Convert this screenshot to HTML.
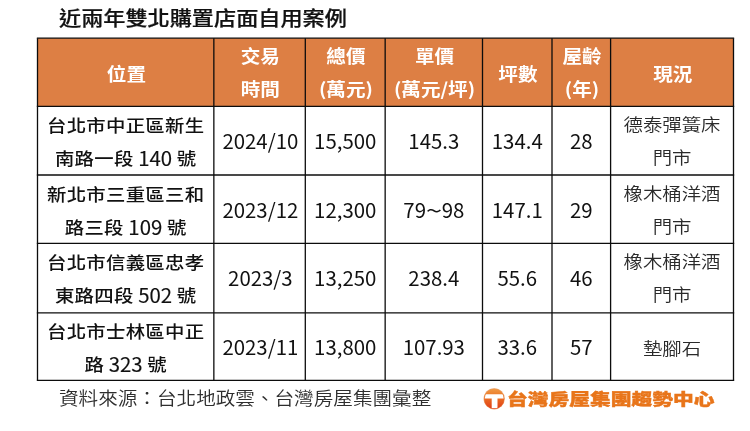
<!DOCTYPE html>
<html lang="zh-Hant"><head><meta charset="utf-8"><title>近兩年雙北購置店面自用案例</title>
<style>
html,body{margin:0;padding:0;background:#fff;}
body{width:750px;height:431px;position:relative;overflow:hidden;font-family:"Liberation Sans","Noto Sans CJK TC",sans-serif;color:#111;}
.t{position:absolute;white-space:nowrap;text-align:center;font-family:"Noto Sans CJK TC","Liberation Sans",sans-serif;}
.k{display:inline-block;transform:scaleY(0.9);transform-origin:50% 50%;}
.title{font-weight:500;font-size:22.15px;line-height:30px;color:#111;-webkit-text-stroke:0.25px #111;}
.h{font-weight:700;font-size:19.6px;line-height:32px;color:#fff;}
.c{font-weight:400;font-size:19.4px;line-height:32px;color:#111;}
.a{font-weight:500;}
.a .k{letter-spacing:0.28px;}
.s{font-weight:350;color:#2a2a2a;}
.n{display:inline-block;font-size:20.4px;}
.a .n{font-weight:400;-webkit-text-stroke:0.15px #111;}
.f{font-weight:350;font-size:19.6px;line-height:30px;color:#2e2e2e;}
.logo{font-weight:900;font-size:20.75px;line-height:30px;color:#e8751a;-webkit-text-stroke:0.5px #e8751a;}
.lk{display:inline-block;transform:scaleY(0.79);transform-origin:50% 50%;}
</style></head><body>

<svg style="position:absolute;left:0;top:0" width="750" height="431" viewBox="0 0 750 431"><rect x="37.5" y="38.2" width="696.0" height="68.1" fill="#dd7f44"/><line x1="36.85" y1="38.2" x2="734.15" y2="38.2" stroke="#0c0c0c" stroke-width="1.3"/><line x1="36.85" y1="106.3" x2="734.15" y2="106.3" stroke="#0c0c0c" stroke-width="1.3"/><line x1="36.85" y1="175.0" x2="734.15" y2="175.0" stroke="#0c0c0c" stroke-width="1.3"/><line x1="36.85" y1="243.4" x2="734.15" y2="243.4" stroke="#0c0c0c" stroke-width="1.3"/><line x1="36.85" y1="312.9" x2="734.15" y2="312.9" stroke="#0c0c0c" stroke-width="1.3"/><line x1="36.85" y1="380.4" x2="734.15" y2="380.4" stroke="#0c0c0c" stroke-width="1.3"/><line x1="37.5" y1="38.2" x2="37.5" y2="380.4" stroke="#0c0c0c" stroke-width="1.3"/><line x1="213.85" y1="38.2" x2="213.85" y2="380.4" stroke="#0c0c0c" stroke-width="1.3"/><line x1="305.3" y1="38.2" x2="305.3" y2="380.4" stroke="#0c0c0c" stroke-width="1.3"/><line x1="385.16" y1="38.2" x2="385.16" y2="380.4" stroke="#0c0c0c" stroke-width="1.3"/><line x1="482.5" y1="38.2" x2="482.5" y2="380.4" stroke="#0c0c0c" stroke-width="1.3"/><line x1="552.0" y1="38.2" x2="552.0" y2="380.4" stroke="#0c0c0c" stroke-width="1.3"/><line x1="610.6" y1="38.2" x2="610.6" y2="380.4" stroke="#0c0c0c" stroke-width="1.3"/><line x1="733.5" y1="38.2" x2="733.5" y2="380.4" stroke="#0c0c0c" stroke-width="1.3"/></svg>
<div class="t title" style="left:59px;top:2.3px;text-align:left"><span class="k">近兩年雙北購置店面自用案例</span></div>
<div class="t h" style="left:-73.62px;top:57.60px;width:400px"><span class="k">位置</span></div>
<div class="t h" style="left:60.27px;top:40.40px;width:400px"><span class="k">交易</span></div>
<div class="t h" style="left:60.27px;top:73.30px;width:400px"><span class="k">時間</span></div>
<div class="t h" style="left:145.93px;top:40.40px;width:400px"><span class="k">總價</span></div>
<div class="t h" style="left:145.93px;top:73.30px;width:400px"><span class="k">(萬元)</span></div>
<div class="t h" style="left:234.53px;top:40.40px;width:400px"><span class="k">單價</span></div>
<div class="t h" style="left:234.53px;top:73.30px;width:400px"><span class="k">(萬元/坪)</span></div>
<div class="t h" style="left:317.95px;top:57.60px;width:400px"><span class="k">坪數</span></div>
<div class="t h" style="left:382.00px;top:40.40px;width:400px"><span class="k">屋齡</span></div>
<div class="t h" style="left:382.00px;top:73.30px;width:400px"><span class="k">(年)</span></div>
<div class="t h" style="left:472.75px;top:57.60px;width:400px"><span class="k">現況</span></div>
<div class="t c a" style="left:-74.33px;top:109.40px;width:400px"><span class="k">台北市中正區新生</span></div>
<div class="t c a" style="left:-74.33px;top:141.30px;width:400px"><span class="k">南路一段</span><span class="n">&nbsp;140&nbsp;</span><span class="k">號</span></div>
<div class="t c" style="left:60.38px;top:124.35px;width:400px"><span class="n">2024/10</span></div>
<div class="t c" style="left:145.23px;top:124.35px;width:400px"><span class="n">15,500</span></div>
<div class="t c" style="left:233.83px;top:124.35px;width:400px"><span class="n">145.3</span></div>
<div class="t c" style="left:317.25px;top:124.35px;width:400px"><span class="n">134.4</span></div>
<div class="t c" style="left:381.30px;top:124.35px;width:400px"><span class="n">28</span></div>
<div class="t c s" style="left:472.05px;top:108.20px;width:400px"><span class="k">德泰彈簧床</span></div>
<div class="t c s" style="left:472.05px;top:141.30px;width:400px"><span class="k">門市</span></div>
<div class="t c a" style="left:-74.33px;top:178.00px;width:400px"><span class="k">新北市三重區三和</span></div>
<div class="t c a" style="left:-74.33px;top:210.30px;width:400px"><span class="k">路三段</span><span class="n">&nbsp;109&nbsp;</span><span class="k">號</span></div>
<div class="t c" style="left:60.38px;top:192.90px;width:400px"><span class="n">2023/12</span></div>
<div class="t c" style="left:145.23px;top:192.90px;width:400px"><span class="n">12,300</span></div>
<div class="t c" style="left:233.83px;top:192.90px;width:400px"><span class="n">79<span style="display:inline-block;transform:scaleX(1.45);padding:0 2.2px">~</span>98</span></div>
<div class="t c" style="left:317.25px;top:192.90px;width:400px"><span class="n">147.1</span></div>
<div class="t c" style="left:381.30px;top:192.90px;width:400px"><span class="n">29</span></div>
<div class="t c s" style="left:472.05px;top:177.30px;width:400px"><span class="k">橡木桶洋酒</span></div>
<div class="t c s" style="left:472.05px;top:210.30px;width:400px"><span class="k">門市</span></div>
<div class="t c a" style="left:-74.33px;top:246.40px;width:400px"><span class="k">台北市信義區忠孝</span></div>
<div class="t c a" style="left:-74.33px;top:278.30px;width:400px"><span class="k">東路四段</span><span class="n">&nbsp;502&nbsp;</span><span class="k">號</span></div>
<div class="t c" style="left:60.38px;top:261.05px;width:400px"><span class="n">2023/3</span></div>
<div class="t c" style="left:145.23px;top:261.05px;width:400px"><span class="n">13,250</span></div>
<div class="t c" style="left:233.83px;top:261.05px;width:400px"><span class="n">238.4</span></div>
<div class="t c" style="left:317.25px;top:261.05px;width:400px"><span class="n">55.6</span></div>
<div class="t c" style="left:381.30px;top:261.05px;width:400px"><span class="n">46</span></div>
<div class="t c s" style="left:472.05px;top:245.20px;width:400px"><span class="k">橡木桶洋酒</span></div>
<div class="t c s" style="left:472.05px;top:278.30px;width:400px"><span class="k">門市</span></div>
<div class="t c a" style="left:-74.33px;top:315.20px;width:400px"><span class="k">台北市士林區中正</span></div>
<div class="t c a" style="left:-74.33px;top:347.30px;width:400px"><span class="k">路</span><span class="n">&nbsp;323&nbsp;</span><span class="k">號</span></div>
<div class="t c" style="left:60.38px;top:330.35px;width:400px"><span class="n">2023/11</span></div>
<div class="t c" style="left:145.23px;top:330.35px;width:400px"><span class="n">13,800</span></div>
<div class="t c" style="left:233.83px;top:330.35px;width:400px"><span class="n">107.93</span></div>
<div class="t c" style="left:317.25px;top:330.35px;width:400px"><span class="n">33.6</span></div>
<div class="t c" style="left:381.30px;top:330.35px;width:400px"><span class="n">57</span></div>
<div class="t c s" style="left:472.05px;top:331.95px;width:400px"><span class="k">墊腳石</span></div>
<div class="t f" style="left:59px;top:383.4px;text-align:left"><span class="k">資料來源：台北地政雲、台灣房屋集團彙整</span></div>
<svg style="position:absolute;left:482px;top:386px" width="26" height="26" viewBox="482 386 26 26">
<defs>
<linearGradient id="lg" x1="0" y1="0" x2="0" y2="1"><stop offset="0" stop-color="#ef9a45"/><stop offset="0.4" stop-color="#ec7424"/><stop offset="1" stop-color="#e03c18"/></linearGradient>
<linearGradient id="tg" x1="0" y1="0" x2="0" y2="1"><stop offset="0" stop-color="#f28a2c"/><stop offset="1" stop-color="#e4690f"/></linearGradient>
<clipPath id="cc"><circle cx="494.2" cy="398.8" r="9.5"/></clipPath>
</defs>
<circle cx="494.2" cy="398.8" r="10.6" fill="#e9a06a"/>
<circle cx="494.2" cy="398.8" r="10.1" fill="url(#lg)"/>
<g clip-path="url(#cc)"><path d="M483 394.3 H506 V398.4 H497.5 V410 H491.7 V398.4 H483 Z" fill="#fff"/></g>
</svg>
<div class="t logo" style="left:506.9px;top:382.9px;text-align:left"><span class="lk">台灣房屋集團趨勢中心</span></div>
</body></html>
